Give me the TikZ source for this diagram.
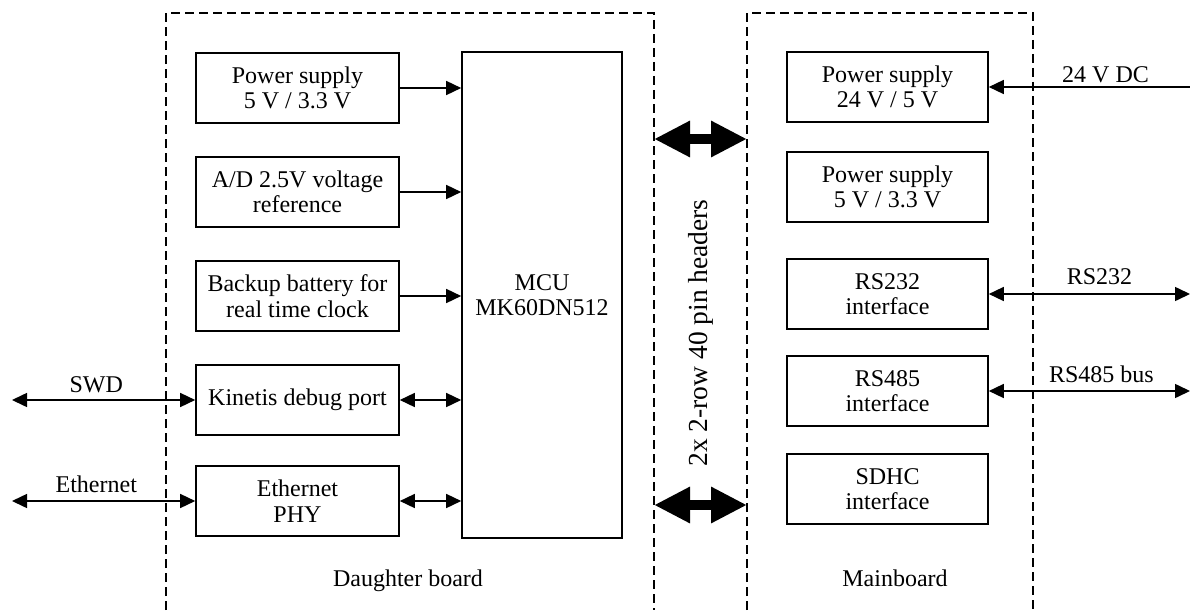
\documentclass[tikz,border=0pt]{standalone}
\usepackage{fontspec}
\setmainfont{Liberation Serif}
\usetikzlibrary{arrows.meta, positioning}
\tikzset{
  blk/.style={draw, line width=1.6pt, minimum width=203pt, minimum height=70pt,
              align=center, inner sep=2pt},
  arr/.style={-{Triangle[length=15pt, width=14pt]}, line width=1.5pt},
  darr/.style={{Triangle[length=15pt, width=14pt]}-{Triangle[length=15pt, width=14pt]},
               line width=1.5pt},
  busarr/.style={{Triangle[length=36pt, width=34pt]}-{Triangle[length=36pt, width=34pt]},
                 line width=10pt},
  board/.style={dash pattern=on 9pt off 5pt, line width=1.4pt},
}

\begin{document}
\begin{tikzpicture}[x=1pt, y=-1pt,
   every node/.style={font=\fontsize{24}{25.5}\selectfont}]
  \useasboundingbox (0,0) rectangle (1190,610);

  % boards
  \draw[board] (166,610) |- (654,13) -- (654,610);
  \draw[board] (747,610) |- (1033,13) -- (1033,610);
  \node[anchor=base] (dblabel) at (408,586) {Daughter board};
  \node[anchor=base] (mblabel) at (895,586) {Mainboard};

  % daughter board
  \node[blk] (psd) at (297.5,88) {Power supply\\5 V / 3.3 V};
  \node[blk] (adc) at (297.5,192) {A/D 2.5V voltage\\reference};
  \node[blk] (bat) at (297.5,296) {Backup battery for\\real time clock};
  \node[blk] (dbg) at (297.5,400) {Kinetis debug port};
  \node[blk] (phy) at (297.5,501) {Ethernet\\PHY};
  \node[draw, line width=1.6pt, minimum width=160pt, minimum height=486pt,
        align=center] (mcu) at (542,295) {MCU\\MK60DN512};

  \draw[arr] (psd.east) -- (psd.east -| mcu.west);
  \draw[arr] (adc.east) -- (adc.east -| mcu.west);
  \draw[arr] (bat.east) -- (bat.east -| mcu.west);
  \draw[darr] (dbg.east) -- (dbg.east -| mcu.west);
  \draw[darr] (phy.east) -- (phy.east -| mcu.west);

  \coordinate (swd) at (12,400);
  \coordinate (eth) at (12,501);
  \draw[darr] (swd) -- node[above=3pt, pos=0.46] (swdlabel) {SWD} (dbg.west);
  \draw[darr] (eth) -- node[above=4pt, pos=0.46] (ethlabel) {Ethernet} (phy.west);

  % headers
  \coordinate (hdra) at (654,139);
  \coordinate (hdrb) at (747,139);
  \coordinate (hdrc) at (654,505);
  \coordinate (hdrd) at (747,505);
  \draw[busarr] (hdra) -- (hdrb);
  \draw[busarr] (hdrc) -- (hdrd);
  \node[rotate=90, font=\fontsize{27.5}{30}\selectfont] (hdr) at (701,333)
    {2x 2-row 40 pin headers};

  % mainboard
  \node[blk, minimum width=201pt] (ps24) at (887.5,87) {Power supply\\24 V / 5 V};
  \node[blk, minimum width=201pt] (ps5) at (887.5,187) {Power supply\\5 V / 3.3 V};
  \node[blk, minimum width=201pt] (rs232) at (887.5,294) {RS232\\interface};
  \node[blk, minimum width=201pt] (rs485) at (887.5,391) {RS485\\interface};
  \node[blk, minimum width=201pt] (sdhc) at (887.5,489) {SDHC\\interface};

  \coordinate (dcin) at (1190,87);
  \coordinate (rs232out) at (1190,294);
  \coordinate (rs485out) at (1190,391);
  \draw[arr] (dcin) -- node[above=0pt, pos=0.42] (dclabel) {24 V DC} (ps24.east);
  \draw[darr] (rs232.east) -- node[above=5pt, pos=0.55] (rs232label) {RS232} (rs232out);
  \draw[darr] (rs485.east) -- node[above=4pt, pos=0.56] (rs485label) {RS485 bus} (rs485out);
\end{tikzpicture}
\end{document}
